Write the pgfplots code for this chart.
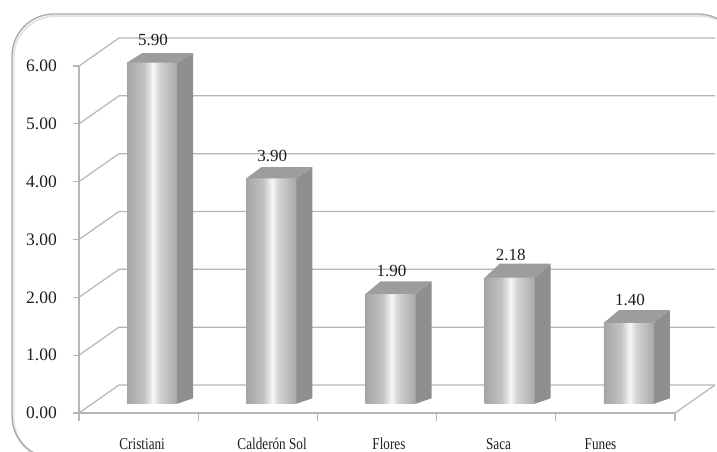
\documentclass[border=0pt]{standalone}
\usepackage{pgfplots}
\pgfplotsset{compat=1.18}
\usepackage{fontspec}
\setmainfont{Liberation Serif}
\newfontfamily\catfont[FakeStretch=0.8]{Liberation Serif}

\definecolor{gridc}{HTML}{B6B6B6}
\definecolor{sidec}{HTML}{8F8F8F}
\definecolor{topc}{HTML}{9D9D9D}
\definecolor{borderc}{HTML}{A8A8A8}
\definecolor{txt}{HTML}{1E1E1E}
\definecolor{shA}{HTML}{A5A5A5}
\definecolor{shB}{HTML}{C2C2C2}
\definecolor{shC}{HTML}{F7F7F7}
\definecolor{shD}{HTML}{D4D4D4}
\definecolor{shE}{HTML}{A9A9A9}
\pgfdeclarehorizontalshading{barshade}{100bp}{color(0bp)=(shA); color(25bp)=(shA); color(42bp)=(shB); color(51bp)=(shC); color(57bp)=(shD); color(75bp)=(shE); color(100bp)=(shE)}

% side and top faces of a bar: #1 category, #2 value, #3 depth rise of top face
\newcommand\barfaces[3]{%
  \fill[sidec] ([shift={(38.5pt,9.2pt)}]axis cs:#1,0) -- ([shift={(38.5pt,9.2pt)}]axis cs:#1,#2) -- ++(16pt,#3pt) -- ([shift={(54.5pt,14.7pt)}]axis cs:#1,0) -- cycle;
  \fill[topc] ([shift={(-11.5pt,9.2pt)}]axis cs:#1,#2) -- ++(50pt,0pt) -- ++(16pt,#3pt) -- ++(-51pt,0pt) -- cycle;
}

\begin{document}
\begin{tikzpicture}
\path[use as bounding box] (0pt,0pt) rectangle (717pt,452pt);
\clip (0pt,0pt) rectangle (717pt,452pt);
\fill[white] (0pt,0pt) rectangle (717pt,452pt);
\draw[gray!20, line width=2.2pt, rounded corners=42pt] (13.5pt,-8pt) rectangle (742pt,436pt);
\draw[borderc, line width=1.3pt, rounded corners=42pt] (12pt,-6pt) rectangle (740pt,438pt);

\begin{axis}[
  at={(79pt,39pt)}, anchor=south west,
  scale only axis, width=596pt, height=347pt,
  xmin=-0.5, xmax=4.5, ymin=0, ymax=6,
  clip=false,
  axis x line*=bottom, axis y line*=left,
  axis line style={gridc, line width=1.2pt},
  xtick={0.03,1.12,2.10,3.02,3.875},
  xticklabels={Cristiani, Calderón Sol, Flores, Saca, Funes},
  ytick={0,1,2,3,4,5,6},
  yticklabels={0.00,1.00,2.00,3.00,4.00,5.00,6.00},
  xtick style={draw=none}, ytick style={draw=none},
  xticklabel style={anchor=base, yshift=-36pt, font=\catfont\fontsize{16.5}{16.5}\selectfont, text=txt},
  yticklabel style={anchor=east, inner sep=0pt, xshift=-22pt, font=\fontsize{17.5}{17.5}\selectfont, text=txt},
  /pgf/number format/assume math mode=true,
]
% back wall and side wall grid lines
\pgfplotsinvokeforeach{0,1,2,3,4,5,6}{
  \draw[gridc, line width=1.2pt] (axis cs:-0.5,#1) -- ++(40pt,28pt) -- ([shift={(40pt,28pt)}]axis cs:4.5,#1);
  \draw[gridc, line width=1.2pt] (axis cs:-0.5,#1) -- ++(-6pt,0pt);
}
\draw[gridc, line width=1.2pt] (axis cs:4.5,0) -- ++(40pt,28pt);
\pgfplotsinvokeforeach{-0.5,0.5,1.5,2.5,3.5,4.5}{
  \draw[gridc, line width=1.2pt] (axis cs:#1,0) -- ++(0pt,-8pt);
}

% bars: front faces
\addplot[ybar, bar width=50pt, bar shift=13.5pt, yshift=9.2pt, draw=none, shade, shading=barshade, forget plot] coordinates {(0,5.90)};
\barfaces{0}{5.90}{9.5}
\addplot[ybar, bar width=50pt, bar shift=13.5pt, yshift=9.2pt, draw=none, shade, shading=barshade, forget plot] coordinates {(1,3.90)};
\barfaces{1}{3.90}{11}
\addplot[ybar, bar width=50pt, bar shift=13.5pt, yshift=9.2pt, draw=none, shade, shading=barshade, forget plot] coordinates {(2,1.90)};
\barfaces{2}{1.90}{12.5}
\addplot[ybar, bar width=50pt, bar shift=13.5pt, yshift=9.2pt, draw=none, shade, shading=barshade, forget plot] coordinates {(3,2.18)};
\barfaces{3}{2.18}{14}
\addplot[ybar, bar width=50pt, bar shift=13.5pt, yshift=9.2pt, draw=none, shade, shading=barshade, forget plot] coordinates {(4,1.40)};
\barfaces{4}{1.40}{12.7}

% value labels
\addplot[draw=none, mark=none, forget plot,
  nodes near coords={\pgfmathprintnumber[fixed,fixed zerofill,precision=2]{\pgfplotspointmeta}},
  nodes near coords style={anchor=south, inner sep=0pt, xshift=14.5pt, yshift=26pt, font=\fontsize{17}{17}\selectfont, text=txt}]
  coordinates {(0,5.90) (1,3.90) (2,1.90) (3,2.18) (4,1.40)};
\end{axis}
\end{tikzpicture}
\end{document}
